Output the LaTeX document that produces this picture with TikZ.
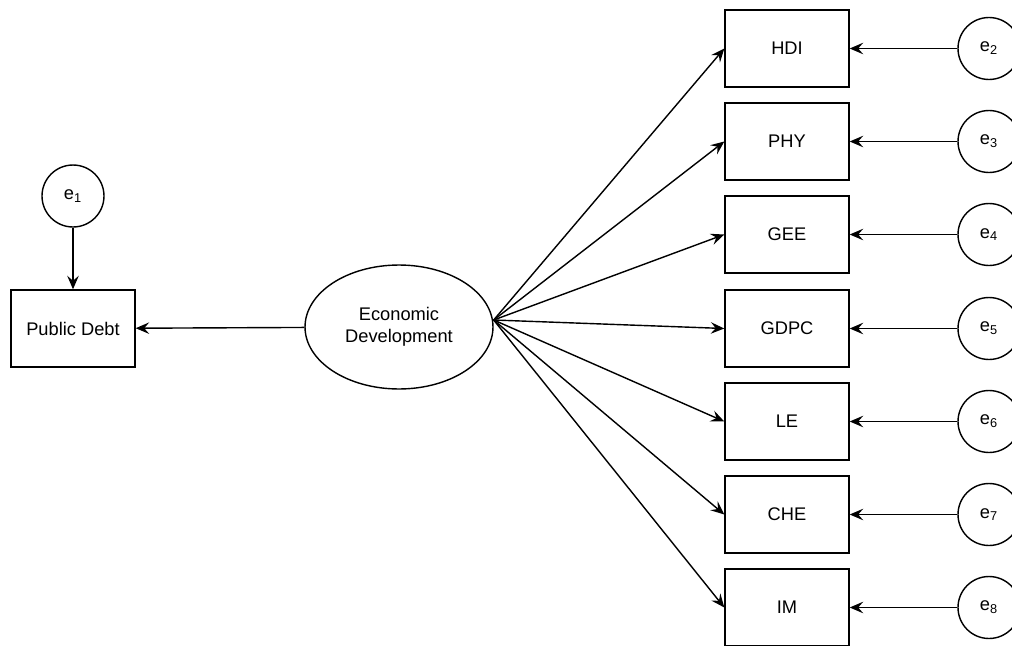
\documentclass[tikz,border=0pt]{standalone}
\usepackage{fontspec}
\setmainfont{Liberation Sans}
\usetikzlibrary{arrows.meta,shapes.geometric,positioning}

\begin{document}
\begin{tikzpicture}[x=0.02cm,y=-0.02cm,line width=0.8pt,
  font=\fontsize{10.4}{12.5}\selectfont,
  obs/.style={draw, minimum width=2.48cm, minimum height=1.54cm, inner sep=0pt},
  err/.style={draw, circle, minimum size=1.24cm, inner sep=0pt},
  lat/.style={draw, ellipse, minimum width=3.76cm, minimum height=2.48cm, inner sep=0pt, align=center},
  arr/.style={-{Stealth[length=2.7mm,width=2.3mm,inset=1mm]}}]
\useasboundingbox (0,0) rectangle (1012,646);

% latent variable and public debt
\node[lat] (ed) at (399,327) {Economic\\Development};
\node[obs] (pd) at (73,328.5) {Public Debt};
\node[err] (e1) at (73,196) {e\textsubscript{1}};
\coordinate (edtip) at ([yshift=0.14cm]ed.east);

\draw[arr] (e1) -- (pd);
\draw[arr] (ed) -- (pd);

% indicators with their errors
\foreach \name/\lab/\y/\k in {hdi/HDI/48.5/2, phy/PHY/141.5/3, gee/GEE/234.5/4,
    gdpc/GDPC/328.5/5, le/LE/421.5/6, che/CHE/514.5/7, im/IM/607.5/8}{
  \node[obs] (\name) at (787,\y) {\lab};
  \node[err] (e\k) at (989,\y) {e\textsubscript{\k}};
  \draw[arr] (e\k) -- (\name);
  \draw[arr] (edtip) -- (\name.west);
}
\end{tikzpicture}
\end{document}
